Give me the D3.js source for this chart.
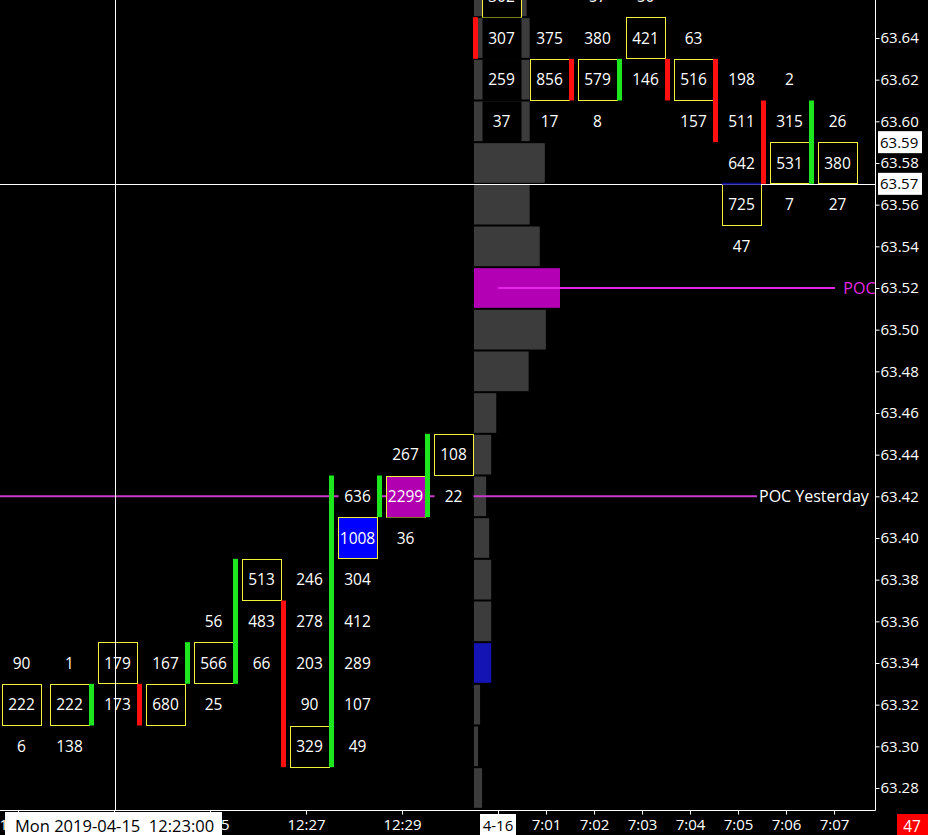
<!DOCTYPE html>
<html lang="en">
<head>
<meta charset="UTF-8">
<title>Footprint chart</title>
<script src="https://d3js.org/d3.v7.min.js"></script>
<style>
    body { margin: 0; padding: 0; background-color: #000; }
    svg { display: block; font-family: "Open Sans", sans-serif; }
</style>
</head>
<body>
<svg width="928" height="835"></svg>
<script>
    // bar times (one slot per minute)
    const times = ["12:21", "12:22", "12:23", "12:24", "12:25", "12:26", "12:27", "12:28", "12:29", "12:30",
        "4-16", "7:01", "7:02", "7:03", "7:04", "7:05", "7:06", "7:07"];
    // 12:23 sits under the cursor label, so it gets a tick but no text
    const timeTicks = [0, 2, 4, 6, 8, 10, 11, 12, 13, 14, 15, 16, 17];
    const hiddenTick = 2;

    const priceTicks = [63.28, 63.30, 63.32, 63.34, 63.36, 63.38, 63.40, 63.42, 63.44, 63.46,
        63.48, 63.50, 63.52, 63.54, 63.56, 63.58, 63.60, 63.62, 63.64];

    // footprint cells: [bar, price, volume, kind]
    const cells = [
        [0, 63.34, 90, ""], [0, 63.32, 222, "box"], [0, 63.30, 6, ""],
        [1, 63.34, 1, ""], [1, 63.32, 222, "box"], [1, 63.30, 138, ""],
        [2, 63.34, 179, "box"], [2, 63.32, 173, ""],
        [3, 63.34, 167, ""], [3, 63.32, 680, "box"],
        [4, 63.36, 56, ""], [4, 63.34, 566, "box"], [4, 63.32, 25, ""],
        [5, 63.38, 513, "box"], [5, 63.36, 483, ""], [5, 63.34, 66, ""],
        [6, 63.38, 246, ""], [6, 63.36, 278, ""], [6, 63.34, 203, ""], [6, 63.32, 90, ""], [6, 63.30, 329, "box"],
        [7, 63.42, 636, ""], [7, 63.40, 1008, "blue"], [7, 63.38, 304, ""], [7, 63.36, 412, ""],
        [7, 63.34, 289, ""], [7, 63.32, 107, ""], [7, 63.30, 49, ""],
        [8, 63.44, 267, ""], [8, 63.42, 2299, "poc"], [8, 63.40, 36, ""],
        [9, 63.44, 108, "box"], [9, 63.42, 22, ""],
        [10, 63.66, 302, "box"], [10, 63.64, 307, ""], [10, 63.62, 259, ""], [10, 63.60, 37, ""],
        [11, 63.64, 375, ""], [11, 63.62, 856, "box"], [11, 63.60, 17, ""],
        [12, 63.66, 57, ""], [12, 63.64, 380, ""], [12, 63.62, 579, "box"], [12, 63.60, 8, ""],
        [13, 63.66, 50, ""], [13, 63.64, 421, "box"], [13, 63.62, 146, ""],
        [14, 63.64, 63, ""], [14, 63.62, 516, "box"], [14, 63.60, 157, ""],
        [15, 63.62, 198, ""], [15, 63.60, 511, ""], [15, 63.58, 642, ""], [15, 63.56, 725, "box"], [15, 63.54, 47, ""],
        [16, 63.62, 2, ""], [16, 63.60, 315, ""], [16, 63.58, 531, "box"], [16, 63.56, 7, ""],
        [17, 63.60, 26, ""], [17, 63.58, 380, "box"], [17, 63.56, 27, ""]
    ];

    // candle bodies: [bar, high price, low price, direction]
    const bodies = [
        [2, 63.32, 63.32, "up"], [3, 63.32, 63.32, "down"], [4, 63.34, 63.34, "up"],
        [5, 63.38, 63.34, "up"], [6, 63.36, 63.30, "down"], [7, 63.42, 63.30, "up"],
        [8, 63.42, 63.42, "up"], [9, 63.44, 63.42, "up"], [10, 63.64, 63.64, "down"],
        [12, 63.62, 63.62, "down"], [13, 63.62, 63.62, "up"], [14, 63.62, 63.62, "down"],
        [15, 63.62, 63.60, "down"], [16, 63.60, 63.58, "down"], [17, 63.60, 63.58, "up"]
    ];

    // session volume profile
    const profilePrices = [63.28, 63.30, 63.32, 63.34, 63.36, 63.38, 63.40, 63.42, 63.44, 63.46,
        63.48, 63.50, 63.52, 63.54, 63.56, 63.58, 63.60, 63.62, 63.64, 63.66];
    const profileVol = [800, 400, 600, 1700, 1700, 1700, 1500, 1200, 1700, 2200,
        5400, 7100, 8500, 6500, 5500, 7000, 5500, 5500, 5500, 5200];

    const pocPrice = 63.52;
    const pocYesterday = 63.42;
    const valueArea = 63.34;
    const cursorPrice = 63.57;
    const cursorBar = 2;
    const markedPrices = [63.59, 63.57];
    const cursorLabel = "Mon 2019-04-15  12:23:00";
    const lastVolume = 47;

    const svg = d3.select("svg");
    const W = 928, H = 835;
    const plotR = 875.5, plotB = 810.5;

    svg.append("rect").attr("width", W).attr("height", H).attr("fill", "#000");

    const x = d3.scaleLinear().domain([0, 17]).range([18, 834]);
    const y = d3.scaleLinear().domain([63.28, 63.64]).range([788, 38]);
    const rowH = y(63.28) - y(63.30);

    const plot = svg.append("g");

    // volume profile
    const px0 = x(9.5);
    const pw = d3.scaleLinear().domain([0, d3.max(profileVol)]).range([0, 86]);
    plot.append("g").selectAll("rect")
        .data(profilePrices)
        .join("rect")
        .attr("x", px0)
        .attr("y", d => y(d) - rowH / 2 + 1)
        .attr("width", (d, i) => pw(profileVol[i]))
        .attr("height", rowH - 2)
        .attr("fill", d => Math.abs(d - pocPrice) < 1e-6 ? "#b400b4"
            : Math.abs(d - valueArea) < 1e-6 ? "#1414b4" : "#3c3c3c");

    // yesterday's POC
    plot.append("line")
        .attr("x1", 0).attr("x2", 757)
        .attr("y1", y(pocYesterday)).attr("y2", y(pocYesterday))
        .attr("stroke", "#c83cc8").attr("stroke-width", 2);

    // footprint cells
    const cellG = plot.append("g");
    cellG.selectAll("rect")
        .data(cells)
        .join("rect")
        .attr("x", d => Math.round(x(d[0]) - 16) + 0.5)
        .attr("y", d => Math.round(y(d[1]) - rowH / 2) + 0.5)
        .attr("width", 39)
        .attr("height", Math.round(rowH) - 1)
        .attr("fill", d => d[3] === "blue" ? "#0000ff" : d[3] === "poc" ? "#b000b0" : "#000")
        .attr("stroke", d => d[3] === "" ? "none" : "#f2f23c")
        .attr("stroke-width", 1);

    cellG.selectAll("text")
        .data(cells)
        .join("text")
        .attr("x", d => x(d[0]) + 3.5)
        .attr("y", d => y(d[1]))
        .attr("dy", "0.36em")
        .attr("text-anchor", "middle")
        .attr("fill", "#fff")
        .attr("font-size", 15.5)
        .text(d => d[2]);

    // candle bodies
    plot.append("g").selectAll("rect")
        .data(bodies)
        .join("rect")
        .attr("x", d => x(d[0]) - 25)
        .attr("y", d => y(d[1]) - rowH / 2)
        .attr("width", 5)
        .attr("height", d => y(d[2]) - y(d[1]) + rowH)
        .attr("fill", d => d[3] === "up" ? "#1ee61e" : "#ff0f0f");

    // today's POC
    plot.append("line")
        .attr("x1", x(10)).attr("x2", 835)
        .attr("y1", y(pocPrice)).attr("y2", y(pocPrice))
        .attr("stroke", "#e628e6").attr("stroke-width", 2);
    plot.append("text")
        .attr("x", plotR).attr("y", y(pocPrice)).attr("dy", "0.36em")
        .attr("text-anchor", "end").attr("fill", "#e628e6").attr("font-size", 16)
        .text("POC");
    plot.append("text")
        .attr("x", 759).attr("y", y(pocYesterday)).attr("dy", "0.36em")
        .attr("fill", "#fff").attr("font-size", 16)
        .text("POC Yesterday");

    // crosshair
    plot.append("line")
        .attr("x1", x(cursorBar) + 1.5).attr("x2", x(cursorBar) + 1.5)
        .attr("y1", 0).attr("y2", plotB)
        .attr("stroke", "#fff").attr("stroke-width", 1);
    plot.append("line")
        .attr("x1", 0).attr("x2", plotR)
        .attr("y1", Math.round(y(cursorPrice)) + 0.5).attr("y2", Math.round(y(cursorPrice)) + 0.5)
        .attr("stroke", "#fff").attr("stroke-width", 1);
    plot.append("line")
        .attr("x1", x(15) - 16).attr("x2", x(15) + 23)
        .attr("y1", y(cursorPrice)).attr("y2", y(cursorPrice))
        .attr("stroke", "#0a0a8c").attr("stroke-width", 2);

    // price axis
    const yAxis = svg.append("g")
        .attr("transform", `translate(${plotR},0)`)
        .call(d3.axisRight(y).tickValues(priceTicks).tickFormat(d3.format(".2f")).tickSize(4).tickSizeOuter(0));
    yAxis.select(".domain").remove();
    yAxis.selectAll("line").attr("stroke", "#fff");
    yAxis.selectAll("text").attr("fill", "#fff").attr("font-size", 15)
        .attr("font-family", "Open Sans, sans-serif").attr("x", 5);

    const marks = svg.append("g");
    markedPrices.forEach(p => {
        marks.append("rect")
            .attr("x", 878).attr("y", y(p) - 11).attr("width", 44).attr("height", 22)
            .attr("fill", "#fff");
        marks.append("text")
            .attr("x", 880).attr("y", y(p)).attr("dy", "0.36em")
            .attr("fill", "#000").attr("font-size", 15)
            .text(d3.format(".2f")(p));
    });

    // time axis
    const xAxis = svg.append("g")
        .attr("transform", `translate(0,${plotB})`)
        .call(d3.axisBottom(x).tickValues(timeTicks)
            .tickFormat(i => i === hiddenTick ? "" : times[i]).tickSize(4).tickSizeOuter(0));
    xAxis.select(".domain").remove();
    xAxis.selectAll("line").attr("stroke", "#fff");
    xAxis.selectAll("text").attr("fill", "#fff").attr("font-size", 15)
        .attr("font-family", "Open Sans, sans-serif").attr("y", 9);

    // frame
    svg.append("line").attr("x1", plotR).attr("x2", plotR).attr("y1", 0).attr("y2", plotB)
        .attr("stroke", "#fff");
    svg.append("line").attr("x1", 0).attr("x2", plotR).attr("y1", plotB).attr("y2", plotB)
        .attr("stroke", "#fff");

    // session start label
    const dayG = svg.append("g");
    dayG.append("rect").attr("x", x(10) - 18).attr("y", 814).attr("width", 36).attr("height", 21)
        .attr("fill", "#fff");
    dayG.append("text").attr("x", x(10)).attr("y", 826).attr("dy", "0.36em")
        .attr("text-anchor", "middle").attr("fill", "#000").attr("font-size", 15)
        .text(times[10]);

    // cursor time label
    svg.append("rect").attr("x", 5).attr("y", 812).attr("width", 217).attr("height", 23)
        .attr("fill", "#fff");
    svg.append("text").attr("x", 15).attr("y", 826).attr("dy", "0.36em")
        .attr("fill", "#000").attr("font-size", 16.5)
        .style("white-space", "pre")
        .text(cursorLabel);

    // last volume label
    svg.append("rect").attr("x", 897).attr("y", 814).attr("width", 31).attr("height", 21)
        .attr("fill", "#ff0000");
    svg.append("text").attr("x", 912).attr("y", 826).attr("dy", "0.36em")
        .attr("text-anchor", "middle").attr("fill", "#fff").attr("font-size", 15.5)
        .text(lastVolume);
</script>
</body>
</html>
